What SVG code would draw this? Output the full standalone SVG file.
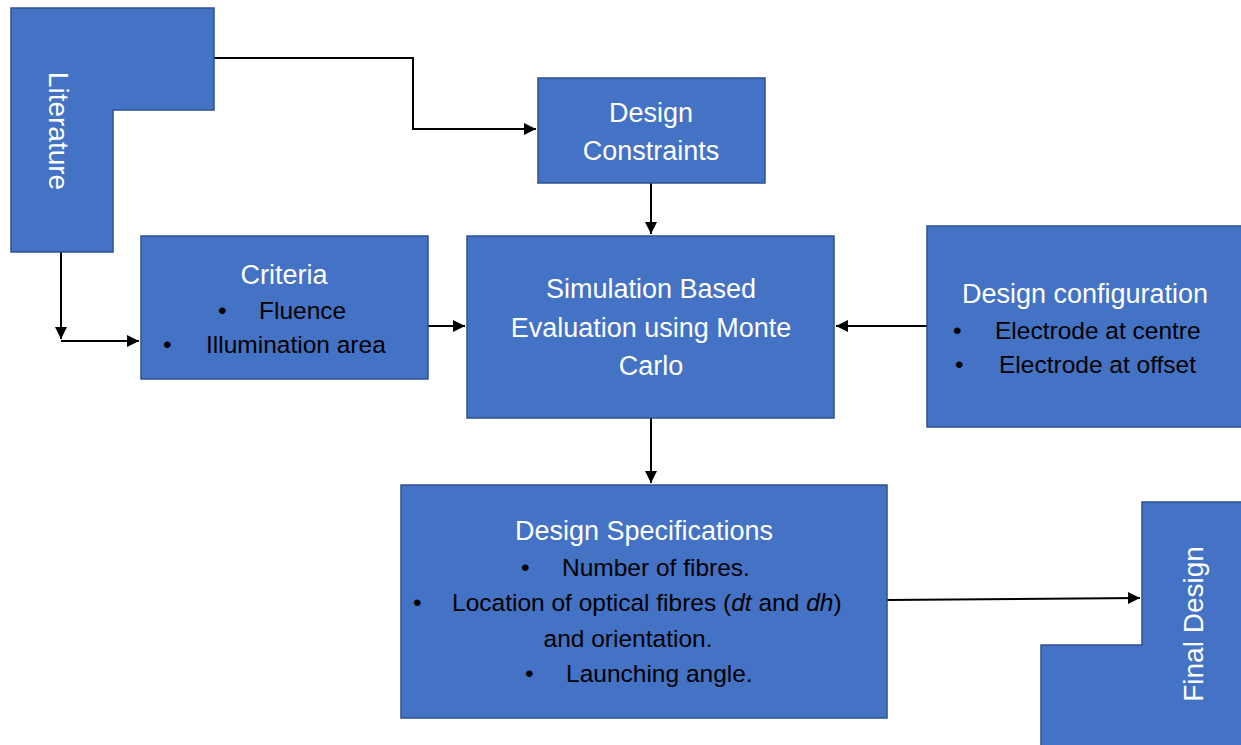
<svg xmlns="http://www.w3.org/2000/svg" width="1241" height="745" viewBox="0 0 1241 745">
<defs>
<style>
.box{fill:#4472C4;stroke:#2F528F;stroke-width:1.5}
.t{font-family:"Liberation Sans",Arial,sans-serif;fill:#fff;font-size:27px;text-anchor:middle}
.b{font-family:"Liberation Sans",Arial,sans-serif;fill:#000;font-size:24.5px}
.c{text-anchor:middle}
.conn{fill:none;stroke:#000;stroke-width:2}
</style>
<marker id="ah" viewBox="0 0 10 10" refX="10" refY="5" markerWidth="6" markerHeight="6" orient="auto" markerUnits="strokeWidth">
<path d="M0,0 L10,5 L0,10 z" fill="#000"/>
</marker>
</defs>
<rect width="1241" height="745" fill="#fff"/>
<g id="connectors">
<path class="conn" d="M214,58 H413 V129 H536" marker-end="url(#ah)"/>
<path class="conn" d="M61,252 V339" marker-end="url(#ah)"/>
<path class="conn" d="M61,341 H139" marker-end="url(#ah)"/>
<path class="conn" d="M651,183 V234" marker-end="url(#ah)"/>
<path class="conn" d="M428,326 H465" marker-end="url(#ah)"/>
<path class="conn" d="M927,326 H836" marker-end="url(#ah)"/>
<path class="conn" d="M651,418 V483" marker-end="url(#ah)"/>
<path class="conn" d="M887,600 L1140,598" marker-end="url(#ah)"/>
</g>
<g id="literature">
<path class="box" d="M11,8 H214 V110 H113 V252 H11 Z"/>
<text class="t" transform="translate(58,131) rotate(90)" dominant-baseline="central" style="font-size:28px">Literature</text>
</g>
<g id="design-constraints">
<rect class="box" x="538" y="78" width="227" height="105"/>
<text class="t" x="651" y="122">Design</text>
<text class="t" x="651" y="160">Constraints</text>
</g>
<g id="criteria">
<rect class="box" x="141" y="236" width="287" height="143"/>
<text class="t" x="284" y="284">Criteria</text>
<text class="b" x="218" y="319">•</text>
<text class="b" x="259" y="319">Fluence</text>
<text class="b" x="163" y="353">•</text>
<text class="b" x="206" y="353">Illumination area</text>
</g>
<g id="simulation">
<rect class="box" x="467" y="236" width="367" height="182"/>
<text class="t" x="651" y="298">Simulation Based</text>
<text class="t" x="651" y="337">Evaluation using Monte</text>
<text class="t" x="651" y="375">Carlo</text>
</g>
<g id="design-configuration">
<rect class="box" x="927" y="226" width="320" height="201"/>
<text class="t" x="1085" y="303">Design configuration</text>
<text class="b" x="953" y="339">•</text>
<text class="b" x="995" y="339">Electrode at centre</text>
<text class="b" x="955" y="373">•</text>
<text class="b" x="999" y="373">Electrode at offset</text>
</g>
<g id="design-specifications">
<rect class="box" x="401" y="485" width="486" height="233"/>
<text class="t" x="644" y="540">Design Specifications</text>
<text class="b" x="521" y="576">•</text>
<text class="b" x="562" y="576">Number of fibres.</text>
<text class="b" x="413" y="611">•</text>
<text class="b" x="452" y="611">Location of optical fibres (<tspan font-style="italic">dt</tspan> and <tspan font-style="italic">dh</tspan>)</text>
<text class="b c" x="628" y="647">and orientation.</text>
<text class="b" x="525" y="682">•</text>
<text class="b" x="566" y="682">Launching angle.</text>
</g>
<g id="final-design">
<path class="box" d="M1142,502 H1245 V750 H1041 V645 H1142 Z"/>
<text class="t" transform="translate(1193,624) rotate(-90)" dominant-baseline="central" style="font-size:28px">Final Design</text>
</g>
</svg>
